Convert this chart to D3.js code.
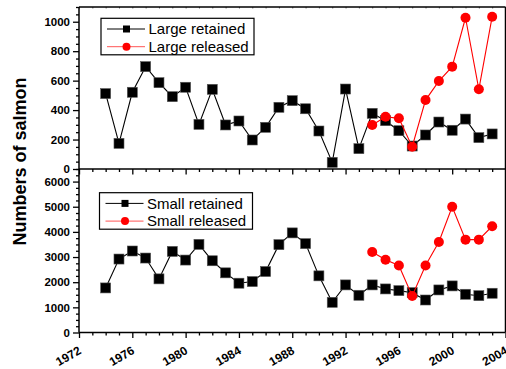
<!DOCTYPE html>
<html><head><meta charset="utf-8">
<script src="https://cdn.jsdelivr.net/npm/d3@7"></script>
<style>body{margin:0;background:#fff}svg{display:block;font-family:"Liberation Sans",Arial,sans-serif}</style>
</head><body>
<svg id="c" width="506" height="369"></svg>
<script>
const years = [1974,1975,1976,1977,1978,1979,1980,1981,1982,1983,1984,1985,1986,1987,1988,1989,1990,1991,1992,1993,1994,1995,1996,1997,1998,1999,2000,2001,2002,2003];
const largeRetained = [512,174,521,695,586,491,555,303,541,299,326,197,283,419,464,409,258,45,543,138,378,328,260,156,231,319,263,339,213,238];
const releasedYears = [1994,1995,1996,1997,1998,1999,2000,2001,2002,2003];
const largeReleased = [299,355,344,151,468,597,695,1027,541,1034];
const smallRetained = [1772,2920,3240,2960,2132,3224,2880,3504,2852,2372,1960,2024,2424,3492,3960,3532,2252,1200,1892,1480,1892,1732,1664,1584,1292,1692,1852,1520,1464,1560];
const smallReleased = [3200,2892,2664,1452,2664,3600,5000,3692,3692,4224];
const xTicks = [1972,1976,1980,1984,1988,1992,1996,2000,2004];
const topTicks = [0,200,400,600,800,1000];
const botTicks = [0,1000,2000,3000,4000,5000,6000];

const svg = d3.select("#c");
const x = d3.scaleLinear().domain([1972,2004]).range([79,505.5]);
const yT = d3.scaleLinear().domain([0,1100]).range([169,7]);
const yB = d3.scaleLinear().domain([0,6500]).range([332.5,169]);

function yAxis(scale, major, minorStep, maxV){
  const minor = d3.range(0, maxV+1, minorStep).filter(v=>!major.includes(v));
  const gMin = svg.append("g").attr("transform","translate(79,0)")
    .call(d3.axisLeft(scale).tickValues(minor).tickSize(3).tickFormat(""));
  gMin.select(".domain").remove();
  const g = svg.append("g").attr("transform","translate(79,0)")
    .call(d3.axisLeft(scale).tickValues(major).tickSize(6).tickPadding(3).tickFormat(d3.format("d")));
  g.select(".domain").remove();
  [g,gMin].forEach(a=>a.selectAll("line").attr("stroke","#000").attr("stroke-width",1.3));
  g.selectAll("text").attr("font-size",11.5).attr("font-weight","bold").attr("fill","#000")
    .attr("font-family","Liberation Sans, Arial, sans-serif");
}
yAxis(yT, topTicks, 50, 1100);
yAxis(yB, botTicks, 250, 6500);

function xAxis(yPos, labels){
  const allYears = d3.range(1972,2005);
  const minor = allYears.filter(v=>!xTicks.includes(v));
  const gm = svg.append("g").attr("transform",`translate(0,${yPos})`)
    .call(d3.axisBottom(x).tickValues(minor).tickSize(3).tickFormat(""));
  gm.select(".domain").remove();
  const g = svg.append("g").attr("transform",`translate(0,${yPos})`)
    .call(d3.axisBottom(x).tickValues(xTicks).tickSize(5.5).tickFormat(""));
  g.select(".domain").remove();
  [g,gm].forEach(a=>a.selectAll("line").attr("stroke","#000").attr("stroke-width",1.3));
  if(labels){
    svg.append("g").selectAll("text").data(xTicks).join("text")
      .attr("transform",d=>`translate(${x(d)+3},${yPos+20.5}) rotate(-30)`)
      .attr("text-anchor","end").attr("font-size",12).attr("font-weight","bold")
      .text(d=>d);
  }
}
xAxis(169,false);
xAxis(332.5,true);

svg.append("g").attr("transform","translate(0,7)")
  .call(d3.axisTop(x).tickValues(d3.range(1972,2005)).tickSize(-1.5).tickFormat(""))
  .call(g=>g.select(".domain").remove())
  .selectAll("line").attr("stroke","#666");

const frame = svg.append("g").attr("stroke","#000").attr("stroke-width",1.5);
frame.append("line").attr("x1",x(1972)).attr("x2",x(2004)).attr("y1",yT(1100)).attr("y2",yT(1100));
frame.append("line").attr("x1",x(1972)).attr("x2",x(2004)).attr("y1",yT(0)).attr("y2",yT(0));
frame.append("line").attr("x1",x(1972)).attr("x2",x(2004)).attr("y1",yB(0)).attr("y2",yB(0));
frame.append("line").attr("x1",x(1972)).attr("x2",x(1972)).attr("y1",yT(1100)).attr("y2",yB(0));
frame.append("line").attr("x1",x(2004)).attr("x2",x(2004)).attr("y1",yT(1100)).attr("y2",yB(0));

function series(xs, vals, yScale, color, shape){
  const pts = xs.map((d,i)=>[x(d), yScale(vals[i])]);
  svg.append("path").attr("d", d3.line()(pts)).attr("fill","none")
    .attr("stroke",color).attr("stroke-width",1.1);
  if(shape==="square"){
    svg.append("g").selectAll("rect").data(pts).join("rect")
      .attr("x",p=>p[0]-5).attr("y",p=>p[1]-5).attr("width",10).attr("height",10)
      .attr("fill","#000").attr("stroke","#555").attr("stroke-width",0.6);
  } else {
    svg.append("g").selectAll("circle").data(pts).join("circle")
      .attr("cx",p=>p[0]).attr("cy",p=>p[1]).attr("r",5).attr("fill",color);
  }
}
series(years, largeRetained, yT, "#000", "square");
series(releasedYears, largeReleased, yT, "#ff0000", "circle");
series(years, smallRetained, yB, "#000", "square");
series(releasedYears, smallReleased, yB, "#ff0000", "circle");

function legend(x0,y0,labels){
  const g = svg.append("g");
  g.append("rect").attr("x",x0).attr("y",y0).attr("width",153).attr("height",36.5)
    .attr("fill","#fff").attr("stroke","#000").attr("stroke-width",1.2);
  const rows=[y0+10.7,y0+28.4];
  g.append("line").attr("x1",x0+6).attr("x2",x0+44).attr("y1",rows[0]).attr("y2",rows[0]).attr("stroke","#000").attr("stroke-width",1);
  g.append("rect").attr("x",x0+22).attr("y",rows[0]-3.5).attr("width",7).attr("height",7).attr("fill","#000");
  g.append("line").attr("x1",x0+6).attr("x2",x0+44).attr("y1",rows[1]).attr("y2",rows[1]).attr("stroke","#ff5555").attr("stroke-width",1);
  g.append("circle").attr("cx",x0+25.5).attr("cy",rows[1]).attr("r",4).attr("fill","#ff0000");
  labels.forEach((t,i)=>g.append("text").attr("x",x0+47.5).attr("y",rows[i]+5.2)
    .attr("font-size",15).attr("fill","#000").text(t));
}
legend(101,18.3,["Large retained","Large released"]);
legend(99.5,192.7,["Small retained","Small released"]);

svg.append("text").attr("transform","translate(26,161.5) rotate(-90)")
  .attr("text-anchor","middle").attr("font-size",18).attr("font-weight","bold")
  .text("Numbers of salmon");
</script>
</body></html>
